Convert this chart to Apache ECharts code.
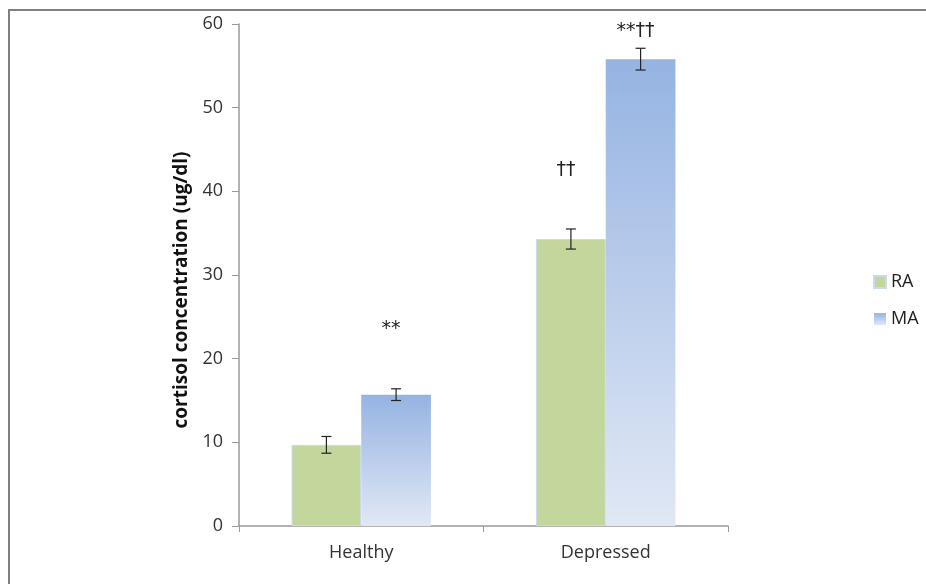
<!DOCTYPE html>
<html>
<head>
<meta charset="utf-8">
<script src="https://cdn.jsdelivr.net/npm/echarts@6/dist/echarts.min.js"></script>
<style>
  html, body { margin: 0; padding: 0; background: #fff; }
  #chart { width: 926px; height: 584px; }
</style>
</head>
<body>
<div id="chart"></div>
<script>
// data
var categories = ["Healthy", "Depressed"];
var raValues = [9.7, 34.3];
var raErrors = [1.0, 1.2];
var maValues = [15.7, 55.8];
var maErrors = [0.7, 1.3];
// significance marks and the height (in ug/dl) where they sit
var raMarks = ["", "††"];
var raMarkY = [null, 42.5];
var maMarks = ["**", "**††"];
var maMarkY = [23.5, 59.2];
var yTicks = [0, 10, 20, 30, 40, 50, 60];

var font = "Open Sans";
var barGapRatio = 0.43;

function barOffset(api, seriesPos) {
    var band = api.size([1, 0])[0];
    var bw = band * (1 - barGapRatio) / 2;
    return (seriesPos - 0.5) * bw;
}

function errorSeries(values, errors, seriesPos) {
    var d = values.map(function (v, i) { return [i, v - errors[i], v + errors[i]]; });
    return {
        type: "custom",
        silent: true,
        z: 5,
        data: d,
        renderItem: function (params, api) {
            var off = barOffset(api, seriesPos);
            var lo = api.coord([api.value(0), api.value(1)]);
            var hi = api.coord([api.value(0), api.value(2)]);
            var x = lo[0] + off;
            var cap = 5;
            var st = { stroke: "#222", lineWidth: 1.2 };
            return {
                type: "group",
                children: [
                    { type: "line", shape: { x1: x, y1: lo[1], x2: x, y2: hi[1] }, style: st },
                    { type: "line", shape: { x1: x - cap, y1: lo[1], x2: x + cap, y2: lo[1] }, style: st },
                    { type: "line", shape: { x1: x - cap, y1: hi[1], x2: x + cap, y2: hi[1] }, style: st }
                ]
            };
        }
    };
}

function markSeries(marks, ys, seriesPos) {
    var d = [];
    marks.forEach(function (m, i) {
        if (m) d.push([i, ys[i], m]);
    });
    return {
        type: "custom",
        silent: true,
        z: 6,
        data: d,
        renderItem: function (params, api) {
            var off = barOffset(api, seriesPos);
            var p = api.coord([api.value(0), api.value(1)]);
            return {
                type: "text",
                x: p[0] + off - 5,
                y: p[1],
                style: {
                    text: d[params.dataIndex][2],
                    fontFamily: "DejaVu Sans",
                    fontSize: 19,
                    fill: "#222",
                    align: "center",
                    verticalAlign: "middle"
                }
            };
        }
    };
}

var chart = echarts.init(document.getElementById("chart"));

var option = {
    backgroundColor: "#fff",
    animation: false,
    textStyle: { fontFamily: font },
    grid: { left: 239, right: 198, top: 24, bottom: 58, containLabel: false },
    legend: {
        orient: "vertical",
        left: 868,
        top: 268,
        itemWidth: 12,
        itemHeight: 12,
        itemGap: 19,
        icon: "rect",
        textStyle: { fontFamily: font, fontSize: 18, color: "#222", padding: [0, 0, 0, 0] },
        data: ["RA", "MA"]
    },
    xAxis: {
        type: "category",
        data: categories,
        axisLine: { lineStyle: { color: "#9a9a9a", width: 1.5 } },
        axisTick: { show: true, length: 6, lineStyle: { color: "#9a9a9a" } },
        axisLabel: { fontFamily: font, fontSize: 18, color: "#333", margin: 18 }
    },
    yAxis: {
        type: "value",
        min: 0,
        max: 60,
        interval: 10,
        name: "cortisol concentration (ug/dl)",
        nameLocation: "middle",
        nameGap: 48,
        nameTextStyle: { fontFamily: font, fontSize: 19, fontWeight: "bold", color: "#111", padding: [0, 30, 0, 0] },
        axisLine: { show: true, lineStyle: { color: "#9a9a9a", width: 1.5 } },
        axisTick: { show: true, length: 7, lineStyle: { color: "#9a9a9a" } },
        axisLabel: {
            fontFamily: font, fontSize: 18, color: "#333", margin: 16,
            formatter: function (v) { return yTicks.indexOf(v) >= 0 ? String(v) : ""; }
        },
        splitLine: { show: false }
    },
    series: [
        {
            name: "RA",
            type: "bar",
            data: raValues,
            barGap: "0%",
            barCategoryGap: (barGapRatio * 100) + "%",
            itemStyle: { color: "#c3d69b", borderColor: "#c9d9ee", borderWidth: 1 }
        },
        {
            name: "MA",
            type: "bar",
            data: maValues,
            itemStyle: {
                color: new echarts.graphic.LinearGradient(0, 0, 0, 1, [
                    { offset: 0, color: "#95b3e2" },
                    { offset: 1, color: "#e1e8f5" }
                ])
            }
        },
        errorSeries(raValues, raErrors, 0),
        errorSeries(maValues, maErrors, 1),
        markSeries(raMarks, raMarkY, 0),
        markSeries(maMarks, maMarkY, 1)
    ],
    graphic: [
        // frame lines at top and left of the original figure
        { type: "line", shape: { x1: 8, y1: 10, x2: 926, y2: 10 }, style: { stroke: "#7f7f7f", lineWidth: 2 } },
        { type: "line", shape: { x1: 9, y1: 10, x2: 9, y2: 584 }, style: { stroke: "#7f7f7f", lineWidth: 2 } }
    ]
};

chart.setOption(option);
</script>
</body>
</html>
